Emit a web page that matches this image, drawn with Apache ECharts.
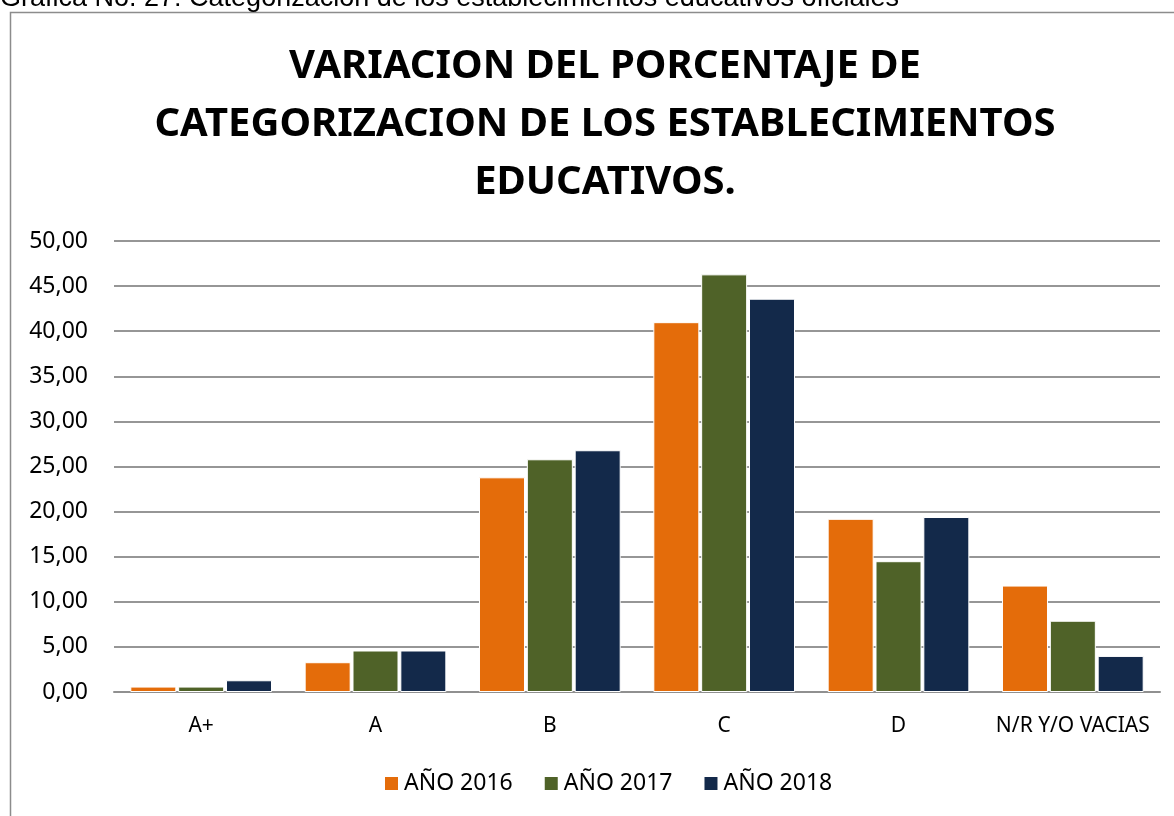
<!DOCTYPE html>
<html>
<head>
<meta charset="utf-8">
<script src="https://cdn.jsdelivr.net/npm/echarts@6/dist/echarts.min.js"></script>
<style>
  html, body { margin: 0; padding: 0; background: #fff; }
  #main { width: 1174px; height: 816px; }
</style>
</head>
<body>
<div id="main"></div>
<script>
// categorias y series (porcentajes)
var categorias = ['A+', 'A', 'B', 'C', 'D', 'N/R Y/O VACIAS'];
var anios = ['AÑO 2016', 'AÑO 2017', 'AÑO 2018'];
var valores2016 = [0.6, 3.3, 23.8, 41.0, 19.2, 11.8];
var valores2017 = [0.6, 4.6, 25.8, 46.3, 14.5, 7.9];
var valores2018 = [1.3, 4.6, 26.8, 43.6, 19.4, 4.0];
var colores = ['#E46C0A', '#4F6228', '#13294A'];

var dom = document.getElementById('main');
var myChart = echarts.init(dom);

var fuente = '"Noto Sans", "Open Sans", sans-serif';

function serie(nombre, datos, color) {
	return {
		name: nombre,
		type: 'bar',
		data: datos,
		barWidth: 46,
		barGap: '4%',
		itemStyle: {
			color: color,
			borderColor: '#fff',
			borderWidth: 1
		}
	};
}

option = {
	animation: false,
	backgroundColor: '#fff',
	title: {
		text: 'VARIACION DEL PORCENTAJE DE\nCATEGORIZACION DE LOS ESTABLECIMIENTOS\nEDUCATIVOS.',
		left: 600,
		top: 33,
		textAlign: 'center',
		textStyle: {
			fontFamily: fuente,
			fontWeight: 'bold',
			fontSize: 40,
			lineHeight: 58,
			color: '#000'
		}
	},
	graphic: [
		{
			type: 'rect',
			shape: { x: 10.5, y: 12.5, width: 1180, height: 820 },
			style: { fill: null, stroke: '#8c8c8c', lineWidth: 1.5 },
			silent: true
		},
		{
			type: 'text',
			left: 0,
			top: -15,
			style: {
				text: 'Grafica No. 27: Categorización de los establecimientos educativos oficiales',
				fontFamily: 'Liberation Sans, Arial, sans-serif',
				fontSize: 27,
				fill: '#000'
			}
		}
	],
	legend: {
		bottom: 16,
		left: 378,
		itemWidth: 15,
		itemHeight: 15,
		itemGap: 30,
		icon: 'rect',
		textStyle: { fontFamily: fuente, fontSize: 23, color: '#000' },
		data: anios
	},
	grid: {
		left: 114,
		right: 14,
		top: 241,
		bottom: 124
	},
	xAxis: {
		type: 'category',
		data: categorias,
		axisTick: { show: false },
		axisLine: { lineStyle: { color: '#909090', width: 2 } },
		axisLabel: {
			interval: 0,
			fontFamily: fuente,
			fontSize: 21,
			color: '#000',
			margin: 24
		}
	},
	yAxis: {
		type: 'value',
		min: 0,
		max: 50,
		interval: 5,
		axisLine: { show: false },
		axisTick: { show: false },
		splitLine: { lineStyle: { color: '#969696', width: 2 } },
		axisLabel: {
			fontFamily: fuente,
			fontSize: 23,
			color: '#000',
			margin: 26,
			formatter: function (v) { return v.toFixed(2).replace('.', ','); }
		}
	},
	series: [
		serie(anios[0], valores2016, colores[0]),
		serie(anios[1], valores2017, colores[1]),
		serie(anios[2], valores2018, colores[2])
	]
};

if (option && typeof option === "object") {
	myChart.setOption(option, true);
}
</script>
</body>
</html>
